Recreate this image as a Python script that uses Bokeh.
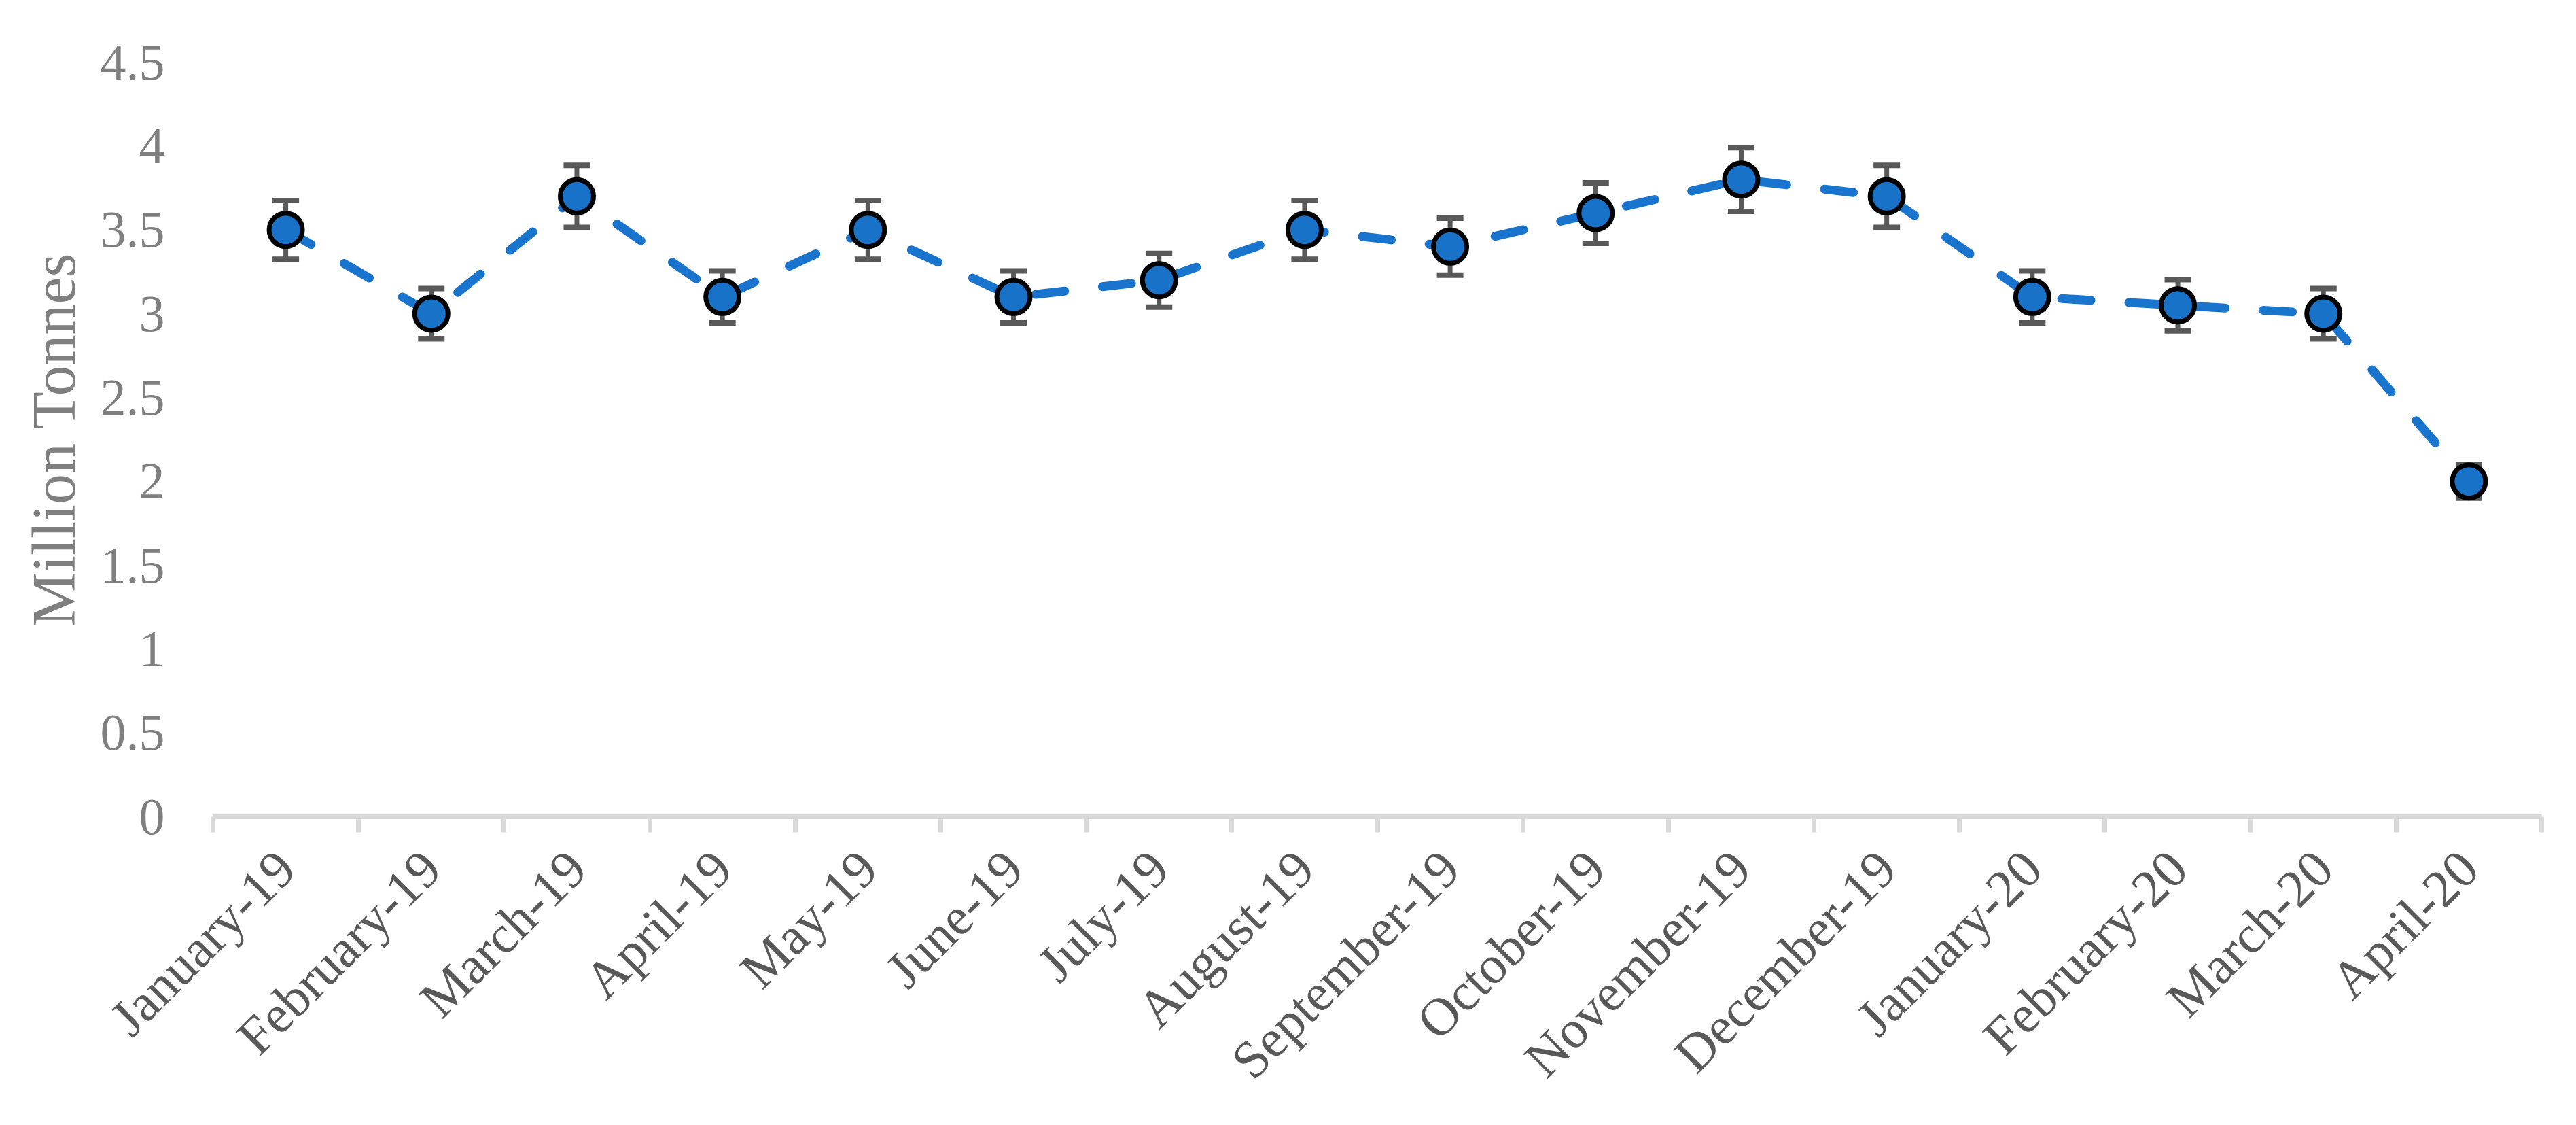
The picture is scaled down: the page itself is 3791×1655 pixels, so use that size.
import math
from bokeh.plotting import figure
from bokeh.models import (Range1d, FixedTicker, ColumnDataSource, Whisker, TeeHead)
from bokeh.embed import file_html
from bokeh.resources import INLINE

months = ["January-19", "February-19", "March-19", "April-19", "May-19", "June-19",
          "July-19", "August-19", "September-19", "October-19", "November-19",
          "December-19", "January-20", "February-20", "March-20", "April-20"]
values = [3.5, 3.0, 3.7, 3.1, 3.5, 3.1, 3.2, 3.5, 3.4, 3.6, 3.8, 3.7, 3.1, 3.05, 3.0, 2.0]
errors = [0.175, 0.15, 0.185, 0.155, 0.175, 0.155, 0.16, 0.175, 0.17, 0.18, 0.19,
          0.185, 0.155, 0.1525, 0.15, 0.10]
y_ticks = [0, 0.5, 1, 1.5, 2, 2.5, 3, 3.5, 4, 4.5]
y_tick_labels = ["0", "0.5", "1", "1.5", "2", "2.5", "3", "3.5", "4", "4.5"]

xs = list(range(1, len(months) + 1))
src = ColumnDataSource(dict(
    x=xs, y=values,
    upper=[v + e for v, e in zip(values, errors)],
    lower=[v - e for v, e in zip(values, errors)],
))

p = figure(width=3775, height=1639, output_backend="svg", toolbar_location=None,
           x_range=Range1d(0.5, len(months) + 0.5), y_range=Range1d(0, 4.5),
           min_border_left=313, min_border_right=35, min_border_top=91,
           min_border_bottom=438)
p.outline_line_color = None
p.background_fill_color = "white"
p.border_fill_color = "white"
p.xgrid.visible = False
p.ygrid.visible = False

FONT = "Liberation Serif"

# x axis
xax = p.xaxis[0]
xax.ticker = FixedTicker(ticks=xs, minor_ticks=[i + 0.5 for i in range(len(months) + 1)])
xax.major_label_overrides = {x: m for x, m in zip(xs, months)}
xax.major_label_orientation = math.pi / 4
xax.major_label_text_font = FONT
xax.major_label_text_font_size = "78px"
xax.major_label_text_color = "#595959"
xax.major_label_standoff = 40
xax.major_tick_line_color = None
xax.major_tick_out = 0
xax.major_tick_in = 0
xax.minor_tick_line_color = "#d9d9d9"
xax.minor_tick_line_width = 7
xax.minor_tick_out = 23
xax.minor_tick_in = 0
xax.axis_line_color = "#d9d9d9"
xax.axis_line_width = 7

# y axis
yax = p.yaxis[0]
yax.ticker = FixedTicker(ticks=y_ticks)
yax.major_label_overrides = {t: l for t, l in zip(y_ticks, y_tick_labels)}
yax.major_label_text_font = FONT
yax.major_label_text_font_size = "76px"
yax.major_label_text_color = "#7f7f7f"
yax.major_label_standoff = 71
yax.axis_line_color = None
yax.major_tick_line_color = None
yax.minor_tick_line_color = None
yax.major_tick_out = 0
yax.major_tick_in = 0
yax.axis_label = "Million Tonnes"
yax.axis_label_text_font = FONT
yax.axis_label_text_font_size = "90px"
yax.axis_label_text_font_style = "normal"
yax.axis_label_text_color = "#7f7f7f"
yax.axis_label_standoff = 16

# error bars
whisk = Whisker(base="x", upper="upper", lower="lower", source=src,
                line_color="#595959", line_width=7,
                upper_head=TeeHead(size=39, line_color="#595959", line_width=8),
                lower_head=TeeHead(size=39, line_color="#595959", line_width=8))
p.add_layout(whisk)

p.line("x", "y", source=src, line_color="#1874cd", line_width=13,
       line_dash="43 56", line_cap="round")
p.scatter("x", "y", source=src, size=49, fill_color="#1772c8",
          line_color="black", line_width=7)

open("out.html", "w").write(file_html(p, INLINE))
